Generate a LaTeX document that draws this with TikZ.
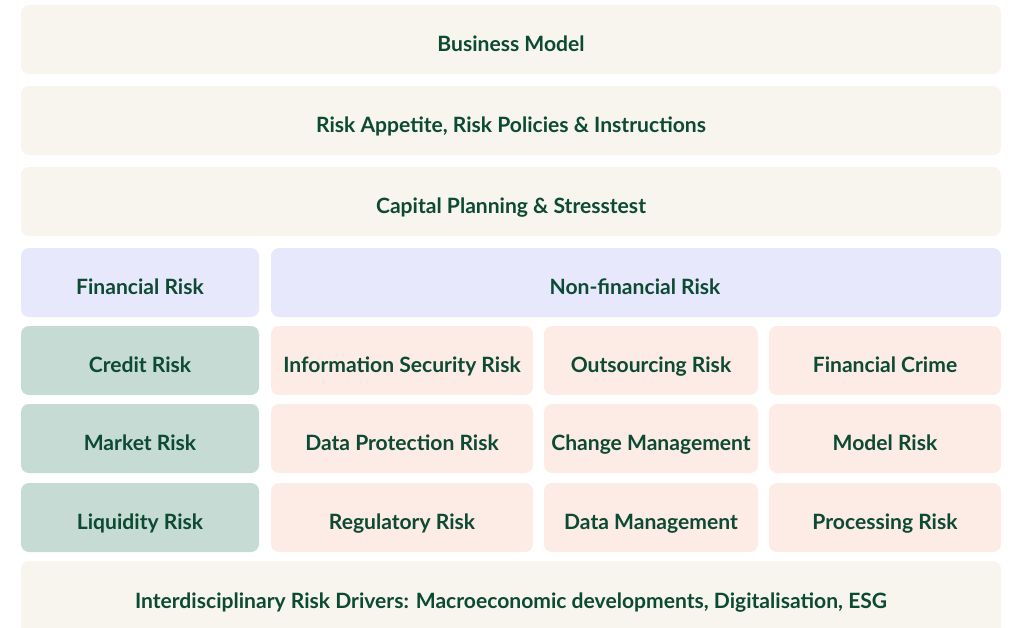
\documentclass[tikz,border=0pt]{standalone}
\usepackage{fontspec}
\setmainfont{Lato}
\usepackage{xcolor}
\usepackage{tikz}
\usetikzlibrary{positioning}

\definecolor{ink}{HTML}{0D4A33}
\definecolor{sand}{HTML}{F8F5EE}
\definecolor{lilac}{HTML}{E8E8FC}
\definecolor{sage}{HTML}{C5DBD4}
\definecolor{blush}{HTML}{FDEBE5}

\tikzset{
    tile/.style={rounded corners=0.16cm},
    lbl/.style={text=ink, font=\fontsize{12}{14}\selectfont\bfseries, inner sep=0pt,
        text height=8.6pt, text depth=0pt}
}

\begin{document}
\begin{tikzpicture}[x=0.02cm, y=-0.02cm]
    \useasboundingbox (0,0) rectangle (1013,627);
    \clip (0,0) rectangle (1013,627);
    % Obere Ebenen:
    \fill[tile, sand] (21,5) rectangle (1001,74);
    \fill[tile, sand] (21,86) rectangle (1001,155);
    \fill[tile, sand] (21,167) rectangle (1001,236);
    \node[lbl] (bm) at (511,44) {Business Model};
    \node[lbl] (ra) at (511,125) {Risk Appetite, Risk Policies \& Instructions};
    \node[lbl] (cp) at (511,206) {Capital Planning \& Stresstest};
    % Risikoarten:
    \fill[tile, lilac] (21,248) rectangle (259,317);
    \fill[tile, lilac] (271,248) rectangle (1001,317);
    \node[lbl] (fr) at (140,287) {Financial Risk};
    \node[lbl] (nfr) at (635,287) {Non-financial Risk};
    % Finanzielle Risiken:
    \fill[tile, sage] (21,326) rectangle (259,395);
    \fill[tile, sage] (21,404) rectangle (259,473);
    \fill[tile, sage] (21,483) rectangle (259,552);
    \node[lbl] (cr) at (140,365) {Credit Risk};
    \node[lbl] (mr) at (140,443) {Market Risk};
    \node[lbl] (lr) at (140,522) {Liquidity Risk};
    % Nicht-finanzielle Risiken:
    \fill[tile, blush] (271,326) rectangle (533,395);
    \fill[tile, blush] (544,326) rectangle (758,395);
    \fill[tile, blush] (769,326) rectangle (1001,395);
    \fill[tile, blush] (271,404) rectangle (533,473);
    \fill[tile, blush] (544,404) rectangle (758,473);
    \fill[tile, blush] (769,404) rectangle (1001,473);
    \fill[tile, blush] (271,483) rectangle (533,552);
    \fill[tile, blush] (544,483) rectangle (758,552);
    \fill[tile, blush] (769,483) rectangle (1001,552);
    \node[lbl] (isr) at (402,365) {Information Security Risk};
    \node[lbl] (osr) at (651,365) {Outsourcing Risk};
    \node[lbl] (fc) at (885,365) {Financial Crime};
    \node[lbl] (dpr) at (402,443) {Data Protection Risk};
    \node[lbl] (chm) at (651,443) {Change Management};
    \node[lbl] (mdr) at (885,443) {Model Risk};
    \node[lbl] (rgr) at (402,522) {Regulatory Risk};
    \node[lbl] (dm) at (651,522) {Data Management};
    \node[lbl] (pr) at (885,522) {Processing Risk};
    % Treiber:
    \fill[tile, sand] (21,561) rectangle (1001,640);
    \node[lbl] (ird) at (511,601) {Interdisciplinary Risk Drivers: Macroeconomic developments, Digitalisation, ESG};
\end{tikzpicture}
\end{document}
